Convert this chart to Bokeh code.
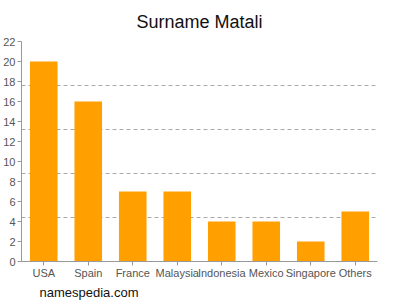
from bokeh.plotting import figure
from bokeh.models import Range1d, FactorRange, SingleIntervalTicker, FixedTicker, Title
from bokeh.embed import file_html
from bokeh.resources import INLINE

countries = ["USA", "Spain", "France", "Malaysia", "Indonesia", "Mexico", "Singapore", "Others"]
counts = [20, 16, 7, 7, 4, 4, 2, 5]
y_tick_step = 2
grid_levels = [4.4, 8.8, 13.2, 17.6, 22]
title_text = "Surname Matali"
footer_text = "namespedia.com"

font = "Liberation Sans"

p = figure(width=400, height=300, x_range=FactorRange(*countries, range_padding=0),
           y_range=Range1d(0, 22), output_backend="svg", toolbar_location=None,
           min_border_left=17, min_border_right=23, min_border_top=41, min_border_bottom=39)
p.outline_line_color = None
p.background_fill_color = "white"
p.border_fill_color = "white"

p.title.text = title_text
p.title.align = "center"
p.title.vertical_align = "top"
p.title.text_font = font
p.title.text_font_size = "18px"
p.title.text_font_style = "normal"
p.title.text_color = "#111111"
p.title.standoff = 16

p.add_layout(Title(text=footer_text, align="left", offset=18, text_font=font,
                   text_font_size="13px", text_font_style="normal", text_color="#111111",
                   standoff=2), "below")

p.vbar(x=countries, top=counts, width=0.62, color="#FFA000", line_color=None)

for ax in (p.xaxis[0], p.yaxis[0]):
    ax.axis_line_color = "#999999"
    ax.major_tick_line_color = "#999999"
    ax.minor_tick_line_color = None
    ax.major_label_text_color = "#555555"
    ax.major_label_text_font = font
    ax.major_label_text_font_size = "11px"
    ax.major_tick_in = 0
    ax.major_tick_out = 4
p.yaxis[0].ticker = SingleIntervalTicker(interval=y_tick_step)
p.yaxis[0].major_label_standoff = 2
p.xaxis[0].major_label_standoff = 1

p.xgrid.grid_line_color = None
p.ygrid.ticker = FixedTicker(ticks=grid_levels)
p.ygrid.grid_line_color = "#AAAAAA"
p.ygrid.grid_line_dash = "4 3"
p.ygrid.grid_line_width = 1

open("out.html", "w").write(file_html(p, INLINE))
